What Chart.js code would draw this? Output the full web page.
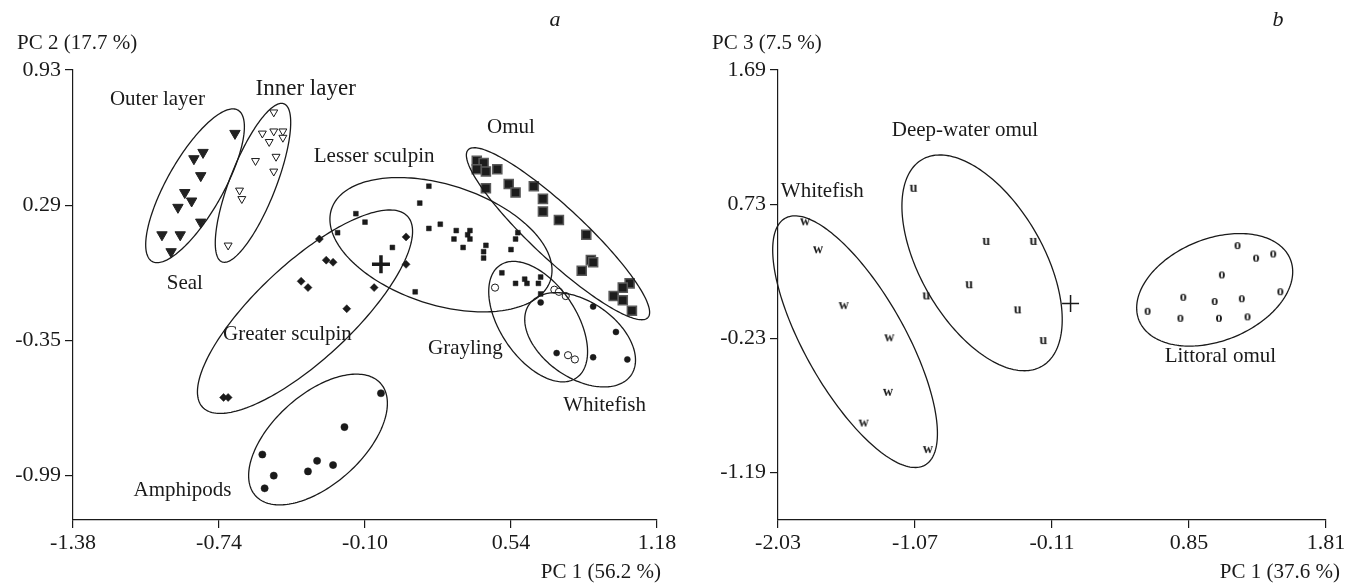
<!DOCTYPE html>
<html><head><meta charset="utf-8">
<script src="https://cdn.jsdelivr.net/npm/chart.js@4.4.0/dist/chart.umd.min.js"></script>
<style>
html,body{margin:0;padding:0;background:#fff;overflow:hidden;}
#wa{position:absolute;left:0;top:0;width:680px;height:584px;}
#wb{position:absolute;left:680px;top:0;width:666px;height:584px;}
</style></head><body>
<div id="wa"><canvas id="ca" width="680" height="584"></canvas></div>
<div id="wb"><canvas id="cb" width="666" height="584"></canvas></div>
<script>
// ---------- Panel a: PC1 (56.2 %) vs PC2 (17.7 %) ----------
const aXTicks = [-1.38, -0.74, -0.10, 0.54, 1.18];
const aXLabels = ['-1.38', '-0.74', '-0.10', '0.54', '1.18'];
const aYTicks = [0.93, 0.29, -0.35, -0.99];
const aYLabels = ['0.93', '0.29', '-0.35', '-0.99'];
const aXRange = [-1.38, 1.18];
const aYRange = [-1.20, 0.93];

const outerX = [-0.67,-0.81,-0.85,-0.82,-0.89,-0.86,-0.92,-0.82,-0.99,-0.91,-0.95];
const outerY = [0.63,0.54,0.51,0.43,0.35,0.31,0.28,0.21,0.15,0.15,0.07];
const innerX = [-0.50,-0.55,-0.50,-0.46,-0.52,-0.46,-0.58,-0.49,-0.50,-0.65,-0.64,-0.70];
const innerY = [0.73,0.63,0.64,0.64,0.59,0.61,0.50,0.52,0.45,0.36,0.32,0.10];
const lesserX = [0.18,0.14,-0.14,-0.10,-0.22,0.18,0.23,0.02,0.30,0.36,0.35,0.36,0.29,0.33,0.43,0.42,0.42,0.57,0.56,0.54,0.12,0.50,0.56,0.60,0.61,0.67,0.66,0.67];
const lesserY = [0.38,0.30,0.25,0.21,0.16,0.18,0.20,0.09,0.17,0.17,0.15,0.13,0.13,0.09,0.10,0.07,0.04,0.16,0.13,0.08,-0.12,-0.03,-0.08,-0.06,-0.08,-0.05,-0.08,-0.13];
const omulX = [0.39,0.42,0.39,0.43,0.48,0.43,0.53,0.56,0.64,0.68,0.68,0.75,0.87,0.89,0.90,0.85,1.06,1.03,0.99,1.03,1.07];
const omulY = [0.50,0.49,0.46,0.45,0.46,0.37,0.39,0.35,0.38,0.32,0.26,0.22,0.15,0.03,0.02,-0.02,-0.08,-0.10,-0.14,-0.16,-0.21];
const greaterX = [-0.30,-0.27,-0.24,-0.38,-0.35,-0.06,-0.18,-0.72,-0.70,0.08,0.08];
const greaterY = [0.13,0.03,0.02,-0.07,-0.10,-0.10,-0.20,-0.62,-0.62,0.14,0.01];
const amphX = [-0.03,-0.19,-0.55,-0.31,-0.24,-0.35,-0.50,-0.54];
const amphY = [-0.60,-0.76,-0.89,-0.92,-0.94,-0.97,-0.99,-1.05];
const graylX = [0.47,0.73,0.75,0.78,0.79,0.82];
const graylY = [-0.10,-0.11,-0.12,-0.14,-0.42,-0.44];
const whiteAX = [0.67,0.90,1.00,0.74,0.90,1.05];
const whiteAY = [-0.17,-0.19,-0.31,-0.41,-0.43,-0.44];
const centerAX = [-0.03];
const centerAY = [0.01];

// group ellipses: centre x, centre y, conjugate semi-axis A (x,y), B (x,y)
const aEllipses = [
  [-0.845, 0.382, 0.188, 0.358, 0.107, -0.065],   // outer layer
  [-0.591, 0.396, 0.136, 0.374, 0.094, -0.040],   // inner layer
  [0.233, 0.103, 0.480, -0.168, -0.081, -0.270],  // lesser sculpin
  [-0.363, -0.214, 0.449, 0.452, 0.144, -0.166],  // greater sculpin
  [-0.306, -0.819, 0.274, 0.266, 0.132, -0.158],  // amphipods
  [0.746, 0.155, 0.394, -0.397, -0.078, -0.090],  // omul
  [0.659, -0.261, 0.167, -0.267, -0.138, -0.100], // grayling
  [0.843, -0.347, 0.223, -0.168, -0.096, -0.147]  // whitefish
];
const aNotes = [
  ['Outer layer', -1.01, 0.79, 21],
  ['Inner layer', -0.36, 0.84, 23],
  ['Lesser sculpin', -0.06, 0.52, 21],
  ['Omul', 0.54, 0.66, 21],
  ['Seal', -0.89, -0.08, 21],
  ['Greater sculpin', -0.44, -0.32, 21],
  ['Grayling', 0.34, -0.39, 21],
  ['Whitefish', 0.95, -0.66, 21],
  ['Amphipods', -0.90, -1.06, 21]
];

// ---------- Panel b: PC1 (37.6 %) vs PC3 (7.5 %) ----------
const bXTicks = [-2.03, -1.07, -0.11, 0.85, 1.81];
const bXLabels = ['-2.03', '-1.07', '-0.11', '0.85', '1.81'];
const bYTicks = [1.69, 0.73, -0.23, -1.19];
const bYLabels = ['1.69', '0.73', '-0.23', '-1.19'];
const bXRange = [-2.03, 1.81];
const bYRange = [-1.53, 1.69];

const wX = [-1.84,-1.75,-1.57,-1.25,-1.26,-1.43,-0.98];
const wY = [0.60,0.40,0.00,-0.23,-0.62,-0.84,-1.03];
const uX = [-1.08,-0.57,-0.24,-0.69,-0.99,-0.35,-0.17];
const uY = [0.84,0.46,0.46,0.15,0.07,-0.03,-0.25];
const oX = [1.19,1.32,1.44,1.08,1.49,0.81,1.03,1.22,0.56,0.79,1.06,1.26];
const oY = [0.43,0.34,0.37,0.22,0.10,0.06,0.03,0.05,-0.04,-0.09,-0.09,-0.08];
const centerBX = [0.02];
const centerBY = [0.02];

const bEllipses = [
  [-1.49, -0.254, 0.490, -0.883, -0.305, -0.176], // whitefish
  [-0.60, 0.31, 0.419, -0.740, -0.374, -0.220],   // deep-water omul
  [1.03, 0.117, 0.530, 0.219, 0.134, -0.338]      // littoral omul
];
const bNotes = [
  ['Whitefish', -1.72, 0.82, 21],
  ['Deep-water omul', -0.72, 1.26, 21],
  ['Littoral omul', 1.07, -0.36, 21]
];

// ---------- drawing helpers ----------
const FONT = '"Liberation Serif","Times New Roman",serif';
const INK = '#1a1a1a';
Chart.defaults.font.family = FONT;

function pts(xs, ys) { return xs.map((x, i) => ({x: x, y: ys[i]})); }

function letterMarker(ch) {
  const c = document.createElement('canvas');
  c.width = 16; c.height = 16;
  const g = c.getContext('2d');
  g.fillStyle = INK;
  g.font = 'bold 14px ' + FONT;
  g.textAlign = 'center';
  g.textBaseline = 'middle';
  g.fillText(ch, 8, 7);
  return c;
}

const ellipsePlugin = {
  id: 'ellipses',
  afterDatasetsDraw(chart, args, opts) {
    const ctx = chart.ctx, sx = chart.scales.x, sy = chart.scales.y;
    ctx.save();
    ctx.strokeStyle = INK;
    ctx.lineWidth = 1.3;
    (opts.list || []).forEach(e => {
      ctx.beginPath();
      for (let k = 0; k <= 200; k++) {
        const t = k / 200 * Math.PI * 2;
        const vx = e[0] + Math.cos(t) * e[2] + Math.sin(t) * e[4];
        const vy = e[1] + Math.cos(t) * e[3] + Math.sin(t) * e[5];
        const px = sx.getPixelForValue(vx), py = sy.getPixelForValue(vy);
        if (k === 0) ctx.moveTo(px, py); else ctx.lineTo(px, py);
      }
      ctx.closePath();
      ctx.stroke();
    });
    ctx.restore();
  }
};

const notesPlugin = {
  id: 'notes',
  afterDraw(chart, args, o) {
    const ctx = chart.ctx, ca = chart.chartArea, sx = chart.scales.x, sy = chart.scales.y;
    ctx.save();
    ctx.fillStyle = INK;
    ctx.textBaseline = 'middle';
    (o.labels || []).forEach(l => {
      ctx.font = l[3] + 'px ' + FONT;
      ctx.textAlign = 'center';
      ctx.fillText(l[0], sx.getPixelForValue(l[1]), sy.getPixelForValue(l[2]));
    });
    ctx.font = '21px ' + FONT;
    ctx.textAlign = 'left';
    ctx.fillText(o.yTitle, ca.left + o.yTitleDx, ca.top - 27);
    ctx.textAlign = 'right';
    ctx.fillText(o.xTitle, ca.right + o.xTitleDx, ca.bottom + 52);
    ctx.font = 'italic 22px ' + FONT;
    ctx.textAlign = 'center';
    ctx.fillText(o.panel, ca.right + o.panelDx, 20);
    ctx.restore();
  }
};

function makeScales(xr, xt, xl, yr, yt, yl, yW, xH) {
  const grid = {drawOnChartArea: false, drawTicks: true, tickLength: 8, color: INK, lineWidth: 1.2};
  const border = {display: true, color: INK, width: 1.2};
  return {
    x: {type: 'linear', min: xr[0], max: xr[1], grid: grid, border: border,
      afterBuildTicks: s => { s.ticks = xt.map(v => ({value: v})); },
      afterFit: s => { s.height = xH; s.paddingLeft = 0; s.paddingRight = 0; },
      ticks: {color: INK, font: {family: FONT, size: 22}, padding: 2, autoSkip: false, maxRotation: 0,
        callback: (v, i) => xl[i]}},
    y: {type: 'linear', min: yr[0], max: yr[1], grid: grid, border: border,
      afterBuildTicks: s => { s.ticks = yt.map(v => ({value: v})); },
      afterFit: s => { s.width = yW; s.paddingTop = 0; s.paddingBottom = 0; },
      ticks: {color: INK, font: {family: FONT, size: 22}, padding: 4, autoSkip: false,
        callback: (v, i) => yl[i]}}
  };
}

function ds(label, xs, ys, style) {
  return Object.assign({label: label, data: pts(xs, ys), showLine: false}, style);
}

const baseOpts = {
  responsive: false, animation: false, devicePixelRatio: 1,
  events: []
};

new Chart(document.getElementById('ca'), {
  type: 'scatter',
  data: {datasets: [
    ds('Outer layer', outerX, outerY, {pointStyle: 'triangle', pointRotation: 180, pointRadius: 6, pointBackgroundColor: '#222', pointBorderColor: '#222', pointBorderWidth: 1}),
    ds('Inner layer', innerX, innerY, {pointStyle: 'triangle', pointRotation: 180, pointRadius: 4.6, pointBackgroundColor: '#fff', pointBorderColor: INK, pointBorderWidth: 1}),
    ds('Lesser sculpin', lesserX, lesserY, {pointStyle: 'rect', pointRadius: 3.4, pointBackgroundColor: INK, pointBorderColor: INK, pointBorderWidth: 0.5}),
    ds('Omul', omulX, omulY, {pointStyle: 'rect', pointRadius: 6.4, pointBackgroundColor: '#1c1c1c', pointBorderColor: '#5a5a5a', pointBorderWidth: 1.5}),
    ds('Greater sculpin', greaterX, greaterY, {pointStyle: 'rectRot', pointRadius: 4, pointBackgroundColor: INK, pointBorderColor: INK, pointBorderWidth: 0.5}),
    ds('Amphipods', amphX, amphY, {pointStyle: 'circle', pointRadius: 3.6, pointBackgroundColor: INK, pointBorderColor: INK, pointBorderWidth: 0.5}),
    ds('Grayling', graylX, graylY, {pointStyle: 'circle', pointRadius: 3.6, pointBackgroundColor: '#fff', pointBorderColor: INK, pointBorderWidth: 1}),
    ds('Whitefish', whiteAX, whiteAY, {pointStyle: 'circle', pointRadius: 3, pointBackgroundColor: INK, pointBorderColor: INK, pointBorderWidth: 0.5}),
    ds('Centroid', centerAX, centerAY, {pointStyle: 'cross', pointRadius: 9, pointBorderColor: INK, pointBorderWidth: 3.5})
  ]},
  options: Object.assign({}, baseOpts, {
    layout: {padding: {left: 0, top: 70, right: 23, bottom: 0}},
    scales: makeScales(aXRange, aXTicks, aXLabels, aYRange, aYTicks, aYLabels, 73, 64),
    plugins: {
      legend: {display: false}, tooltip: {enabled: false}, title: {display: false},
      ellipses: {list: aEllipses},
      notes: {labels: aNotes, yTitle: 'PC 2 (17.7 %)', yTitleDx: -56, xTitle: 'PC 1 (56.2 %)', xTitleDx: 4, panel: 'a', panelDx: -102}
    }
  }),
  plugins: [ellipsePlugin, notesPlugin]
});

new Chart(document.getElementById('cb'), {
  type: 'scatter',
  data: {datasets: [
    ds('Whitefish', wX, wY, {pointStyle: letterMarker('w'), pointRadius: 6}),
    ds('Deep-water omul', uX, uY, {pointStyle: letterMarker('u'), pointRadius: 6}),
    ds('Littoral omul', oX, oY, {pointStyle: letterMarker('o'), pointRadius: 6}),
    ds('Centroid', centerBX, centerBY, {pointStyle: 'cross', pointRadius: 8.5, pointBorderColor: INK, pointBorderWidth: 1.5})
  ]},
  options: Object.assign({}, baseOpts, {
    layout: {padding: {left: 0, top: 70, right: 20, bottom: 0}},
    scales: makeScales(bXRange, bXTicks, bXLabels, bYRange, bYTicks, bYLabels, 98, 64),
    plugins: {
      legend: {display: false}, tooltip: {enabled: false}, title: {display: false},
      ellipses: {list: bEllipses},
      notes: {labels: bNotes, yTitle: 'PC 3 (7.5 %)', yTitleDx: -66, xTitle: 'PC 1 (37.6 %)', xTitleDx: 14, panel: 'b', panelDx: -48}
    }
  }),
  plugins: [ellipsePlugin, notesPlugin]
});
</script>
</body></html>
